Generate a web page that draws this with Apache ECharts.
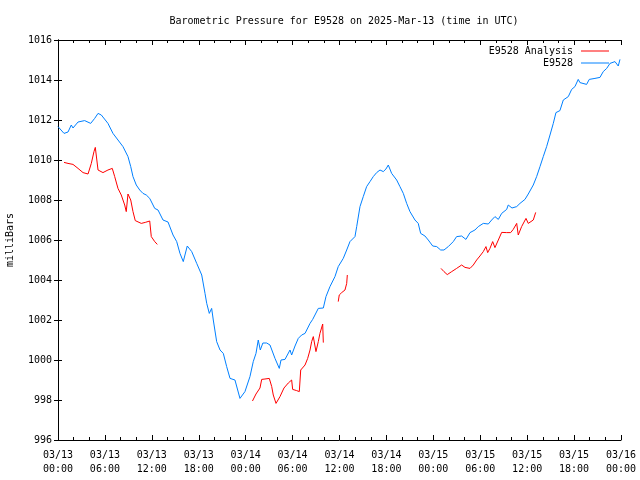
<!DOCTYPE html>
<html>
<head>
<meta charset="utf-8">
<script src="https://cdn.jsdelivr.net/npm/echarts@6/dist/echarts.min.js"></script>
<style>html,body{margin:0;padding:0;background:#fff}#c{width:640px;height:480px}</style>
</head>
<body>
<div id="c"></div>
<script>
// Hours since 2025-03-13 00:00 UTC
const blueHours = [0.0,0.77,1.28,1.7,1.92,2.56,3.41,3.62,4.18,4.69,5.12,5.54,6.39,7.03,7.67,8.31,8.95,9.3,9.59,10.01,10.45,10.87,11.29,11.73,12.37,12.79,13.43,14.07,14.71,15.18,15.6,16.02,16.53,17.1,17.74,18.38,18.8,19.02,19.35,19.65,19.86,20.29,20.72,21.14,21.57,22.0,22.63,23.27,23.49,23.91,24.55,24.97,25.32,25.61,25.87,26.2,26.69,27.11,27.75,28.3,28.52,29.03,29.67,29.88,30.31,30.73,31.16,31.59,32.23,32.57,32.86,33.29,33.93,34.27,34.78,35.42,35.84,36.48,36.92,37.34,37.98,38.2,38.62,39.04,39.47,39.9,40.32,40.75,41.18,41.6,41.94,42.24,42.67,43.31,43.73,44.16,44.59,45.01,45.65,46.07,46.38,46.93,47.35,47.92,48.43,48.94,49.36,49.91,50.55,50.98,51.62,52.17,52.69,53.32,53.75,54.39,55.03,55.46,55.88,56.31,56.74,57.38,57.58,58.06,58.66,59.08,59.72,60.14,60.78,61.21,61.64,62.06,62.49,62.92,63.34,63.68,64.19,64.62,65.26,65.69,66.11,66.53,66.75,67.6,67.94,68.67,69.31,69.73,70.17,70.59,71.23,71.65,71.87];
const blueValues = [1011.67,1011.33,1011.4,1011.75,1011.6,1011.9,1011.97,1012.03,1011.83,1012.08,1012.33,1012.25,1011.83,1011.33,1011.0,1010.67,1010.17,1009.67,1009.17,1008.75,1008.5,1008.33,1008.25,1008.08,1007.58,1007.5,1007.0,1006.9,1006.25,1005.92,1005.33,1004.92,1005.7,1005.42,1004.83,1004.25,1003.33,1002.83,1002.33,1002.58,1002.0,1000.92,1000.5,1000.33,999.67,999.08,999.0,998.08,998.08,998.42,999.17,999.92,1000.33,1001.0,1000.5,1000.85,1000.85,1000.75,1000.08,999.58,1000.0,1000.03,1000.5,1000.25,1000.7,1001.08,1001.25,1001.33,1001.83,1002.03,1002.25,1002.58,1002.6,1003.17,1003.67,1004.17,1004.67,1005.08,1005.5,1005.92,1006.17,1006.67,1007.67,1008.17,1008.67,1008.92,1009.17,1009.37,1009.5,1009.42,1009.55,1009.75,1009.33,1009.0,1008.67,1008.33,1007.83,1007.42,1007.0,1006.83,1006.33,1006.2,1006.0,1005.7,1005.67,1005.5,1005.5,1005.67,1005.92,1006.17,1006.2,1006.03,1006.37,1006.5,1006.67,1006.83,1006.8,1007.0,1007.17,1007.03,1007.33,1007.53,1007.75,1007.6,1007.67,1007.83,1008.03,1008.3,1008.75,1009.17,1009.67,1010.17,1010.67,1011.25,1011.83,1012.37,1012.47,1013.0,1013.17,1013.53,1013.67,1014.03,1013.87,1013.78,1014.03,1014.08,1014.13,1014.42,1014.58,1014.83,1014.92,1014.7,1015.03];

const redHours = [0.77,1.28,1.92,2.56,3.2,3.84,4.26,4.6,4.77,5.12,5.75,6.39,6.94,7.25,7.67,8.09,8.53,8.73,8.95,9.3,9.59,9.88,10.65,11.16,11.73,11.93,12.37,12.7,
  18.0,
  24.87,25.32,25.83,26.05,26.47,27.02,27.33,27.53,27.88,28.39,28.9,29.45,29.88,30.01,30.52,30.86,31.04,31.59,31.93,32.23,32.44,32.65,32.99,33.29,33.5,33.85,33.93,
  35.0,
  35.84,35.97,36.28,36.7,36.92,37.0,
  43.0,
  48.98,49.36,49.78,50.35,50.98,51.62,52.05,52.69,53.11,53.54,53.96,54.39,54.73,54.95,55.24,55.59,55.88,56.31,56.74,57.38,57.89,58.22,58.66,58.86,59.29,59.85,60.14,60.78,61.09];
const redValues = [1009.88,1009.83,1009.78,1009.58,1009.37,1009.3,1009.83,1010.42,1010.63,1009.5,1009.37,1009.5,1009.58,1009.17,1008.58,1008.25,1007.75,1007.42,1008.3,1008.0,1007.42,1006.97,1006.83,1006.88,1006.95,1006.17,1005.92,1005.78,
  null,
  997.95,998.3,998.6,999.03,999.05,999.08,998.67,998.25,997.83,998.17,998.6,998.85,999.0,998.53,998.47,998.42,999.5,999.75,1000.08,1000.5,1000.92,1001.17,1000.42,1000.92,1001.33,1001.8,1000.87,
  null,
  1002.92,1003.25,1003.37,1003.5,1003.83,1004.25,
  null,
  1004.58,1004.42,1004.27,1004.42,1004.58,1004.75,1004.63,1004.58,1004.75,1005.0,1005.2,1005.42,1005.67,1005.37,1005.58,1005.92,1005.62,1006.0,1006.38,1006.37,1006.37,1006.53,1006.83,1006.25,1006.67,1007.08,1006.83,1007.0,1007.38];

const xTickDates = ['03/13','03/13','03/13','03/13','03/14','03/14','03/14','03/14','03/15','03/15','03/15','03/15','03/16'];
const xTickTimes = ['00:00','06:00','12:00','18:00','00:00','06:00','12:00','18:00','00:00','06:00','12:00','18:00','00:00'];

const titleText = 'Barometric Pressure for E9528 on 2025-Mar-13 (time in UTC)';
const yName = 'milliBars';
const redName = 'E9528 Analysis';
const blueName = 'E9528';

const FONT = 'DejaVu Sans Mono';
const blueData = blueHours.map((h, i) => [h, blueValues[i]]);
const redData = redHours.map((h, i) => [h, redValues[i] === null ? '-' : redValues[i]]);

const chart = echarts.init(document.getElementById('c'), null, {renderer: 'canvas'});
const axisLineStyle = {color: '#000', width: 1};
const legendCommon = {orient: 'vertical', right: 31, align: 'right', itemWidth: 28, itemHeight: 1,
  padding: 0, icon: 'rect', textStyle: {fontFamily: FONT, fontSize: 10, color: '#000', padding: [0, 3, 0, 0]}};
chart.setOption({
  animation: false,
  backgroundColor: '#fff',
  title: {
    text: titleText, left: 339, top: 11, textAlign: 'center',
    textStyle: {fontFamily: FONT, fontSize: 10, fontWeight: 'normal', color: '#000'}
  },
  legend: [
    Object.assign({data: [redName], top: 46}, legendCommon),
    Object.assign({data: [blueName], top: 58}, legendCommon)
  ],
  grid: {left: 58, right: 19, top: 40, bottom: 40, containLabel: false, outerBoundsMode: 'none'},
  xAxis: [
    {type: 'value', min: 0, max: 72, interval: 6, position: 'bottom',
     axisLine: {show: true, lineStyle: axisLineStyle},
     axisTick: {show: true, inside: true, length: 5, lineStyle: axisLineStyle},
     minorTick: {show: true, splitNumber: 3, length: 3, lineStyle: axisLineStyle},
     splitLine: {show: false},
     axisLabel: {fontFamily: FONT, fontSize: 10, color: '#000', margin: 8, lineHeight: 14,
       formatter: v => { const i = Math.round(v / 6); return xTickDates[i] + '\n' + xTickTimes[i]; }}},
    {type: 'value', min: 0, max: 72, interval: 6, position: 'top',
     axisLine: {show: true, lineStyle: axisLineStyle},
     axisTick: {show: true, inside: true, length: 5, lineStyle: axisLineStyle},
     minorTick: {show: true, splitNumber: 3, length: 3, lineStyle: axisLineStyle},
     splitLine: {show: false}, axisLabel: {show: false}}
  ],
  yAxis: [
    {type: 'value', min: 996, max: 1016, interval: 2, position: 'left',
     name: yName, nameLocation: 'middle', nameGap: 43,
     nameTextStyle: {fontFamily: FONT, fontSize: 10, color: '#000'},
     axisLine: {show: true, lineStyle: axisLineStyle},
     axisTick: {show: true, inside: true, length: 4, lineStyle: axisLineStyle},
     splitLine: {show: false},
     axisLabel: {fontFamily: FONT, fontSize: 10, color: '#000', margin: 6, formatter: v => String(v)}},
    {type: 'value', min: 996, max: 1016, interval: 2, position: 'right',
     axisLine: {show: true, lineStyle: axisLineStyle},
     axisTick: {show: true, inside: true, length: 4, lineStyle: axisLineStyle},
     splitLine: {show: false}, axisLabel: {show: false}}
  ],
  series: [
    {name: redName, type: 'line', data: redData, showSymbol: false, symbol: 'none',
     connectNulls: false, lineStyle: {color: '#ff0000', width: 1}, itemStyle: {color: '#ff0000'}, z: 3},
    {name: blueName, type: 'line', data: blueData, showSymbol: false, symbol: 'none',
     lineStyle: {color: '#0080ff', width: 1}, itemStyle: {color: '#0080ff'}, z: 2}
  ]
});
</script>
</body>
</html>
